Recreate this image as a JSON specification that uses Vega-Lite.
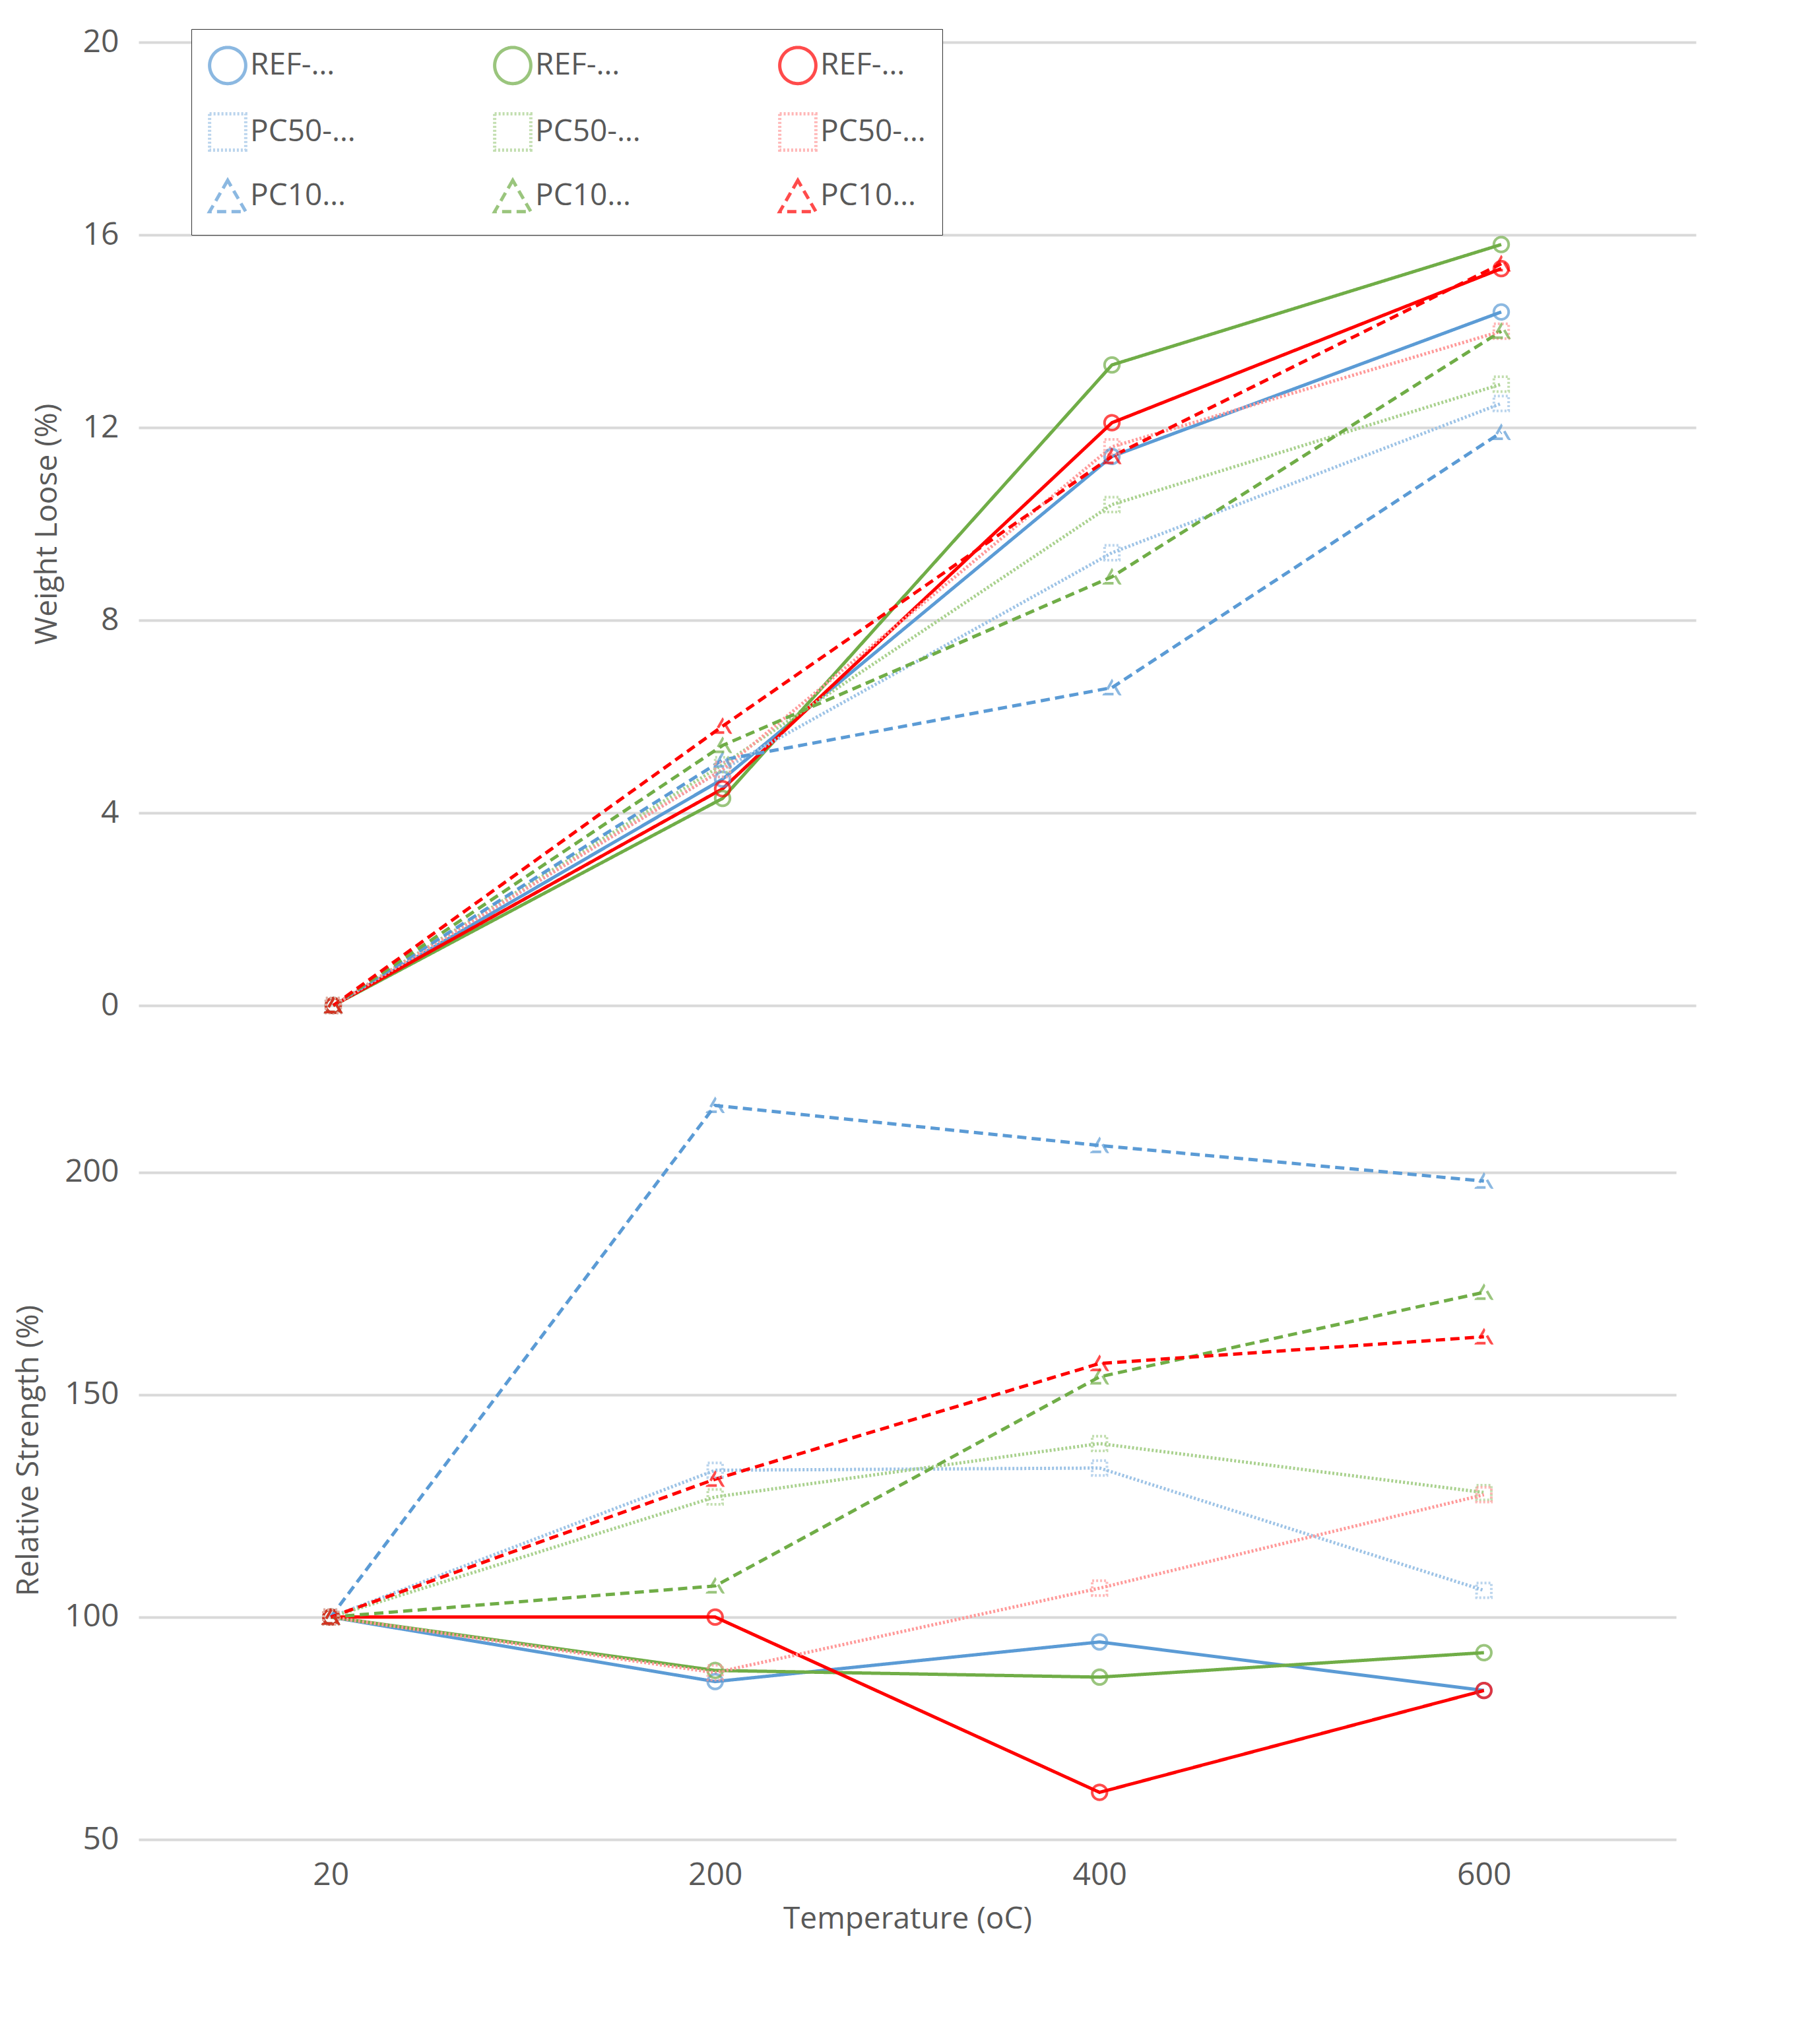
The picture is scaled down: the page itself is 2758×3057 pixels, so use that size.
{
  "$schema": "https://vega.github.io/schema/vega-lite/v6.json",
  "background": "white",
  "padding": {"left": 20, "top": 40, "right": 40, "bottom": 20},
  "config": {
    "font": "Open Sans",
    "view": {"stroke": null},
    "axis": {"labelFontSize": 48, "titleFontSize": 46, "labelColor": "#595959", "titleColor": "#595959", "titleFontWeight": "normal", "gridColor": "#D9D9D9", "gridWidth": 4, "domain": false, "ticks": false, "labelPadding": 30}
  },
  "datasets": {
    "loss": [
      {"series": "REF-D200", "temp": "20", "value": 0}, {"series": "REF-D200", "temp": "200", "value": 4.7}, {"series": "REF-D200", "temp": "400", "value": 11.4}, {"series": "REF-D200", "temp": "600", "value": 14.4},
      {"series": "REF-D250", "temp": "20", "value": 0}, {"series": "REF-D250", "temp": "200", "value": 4.3}, {"series": "REF-D250", "temp": "400", "value": 13.3}, {"series": "REF-D250", "temp": "600", "value": 15.8},
      {"series": "REF-D300", "temp": "20", "value": 0}, {"series": "REF-D300", "temp": "200", "value": 4.5}, {"series": "REF-D300", "temp": "400", "value": 12.1}, {"series": "REF-D300", "temp": "600", "value": 15.3},
      {"series": "PC50-D200", "temp": "20", "value": 0}, {"series": "PC50-D200", "temp": "200", "value": 4.9}, {"series": "PC50-D200", "temp": "400", "value": 9.4}, {"series": "PC50-D200", "temp": "600", "value": 12.5},
      {"series": "PC50-D250", "temp": "20", "value": 0}, {"series": "PC50-D250", "temp": "200", "value": 5.0}, {"series": "PC50-D250", "temp": "400", "value": 10.4}, {"series": "PC50-D250", "temp": "600", "value": 12.9},
      {"series": "PC50-D300", "temp": "20", "value": 0}, {"series": "PC50-D300", "temp": "200", "value": 4.9}, {"series": "PC50-D300", "temp": "400", "value": 11.6}, {"series": "PC50-D300", "temp": "600", "value": 14.0},
      {"series": "PC100-D200", "temp": "20", "value": 0}, {"series": "PC100-D200", "temp": "200", "value": 5.1}, {"series": "PC100-D200", "temp": "400", "value": 6.6}, {"series": "PC100-D200", "temp": "600", "value": 11.9},
      {"series": "PC100-D250", "temp": "20", "value": 0}, {"series": "PC100-D250", "temp": "200", "value": 5.4}, {"series": "PC100-D250", "temp": "400", "value": 8.9}, {"series": "PC100-D250", "temp": "600", "value": 14.0},
      {"series": "PC100-D300", "temp": "20", "value": 0}, {"series": "PC100-D300", "temp": "200", "value": 5.8}, {"series": "PC100-D300", "temp": "400", "value": 11.4}, {"series": "PC100-D300", "temp": "600", "value": 15.4}
    ],
    "strength": [
      {"series": "REF-D200", "temp": "20", "value": 100}, {"series": "REF-D200", "temp": "200", "value": 85.5}, {"series": "REF-D200", "temp": "400", "value": 94.4}, {"series": "REF-D200", "temp": "600", "value": 83.5},
      {"series": "REF-D250", "temp": "20", "value": 100}, {"series": "REF-D250", "temp": "200", "value": 88}, {"series": "REF-D250", "temp": "400", "value": 86.5}, {"series": "REF-D250", "temp": "600", "value": 92},
      {"series": "REF-D300", "temp": "20", "value": 100}, {"series": "REF-D300", "temp": "200", "value": 100}, {"series": "REF-D300", "temp": "400", "value": 60.6}, {"series": "REF-D300", "temp": "600", "value": 83.5},
      {"series": "PC50-D200", "temp": "20", "value": 100}, {"series": "PC50-D200", "temp": "200", "value": 133}, {"series": "PC50-D200", "temp": "400", "value": 133.5}, {"series": "PC50-D200", "temp": "600", "value": 106},
      {"series": "PC50-D250", "temp": "20", "value": 100}, {"series": "PC50-D250", "temp": "200", "value": 127}, {"series": "PC50-D250", "temp": "400", "value": 139}, {"series": "PC50-D250", "temp": "600", "value": 128},
      {"series": "PC50-D300", "temp": "20", "value": 100}, {"series": "PC50-D300", "temp": "200", "value": 87.5}, {"series": "PC50-D300", "temp": "400", "value": 106.5}, {"series": "PC50-D300", "temp": "600", "value": 127.5},
      {"series": "PC100-D200", "temp": "20", "value": 100}, {"series": "PC100-D200", "temp": "200", "value": 215}, {"series": "PC100-D200", "temp": "400", "value": 206}, {"series": "PC100-D200", "temp": "600", "value": 198},
      {"series": "PC100-D250", "temp": "20", "value": 100}, {"series": "PC100-D250", "temp": "200", "value": 107}, {"series": "PC100-D250", "temp": "400", "value": 154}, {"series": "PC100-D250", "temp": "600", "value": 173},
      {"series": "PC100-D300", "temp": "20", "value": 100}, {"series": "PC100-D300", "temp": "200", "value": 131}, {"series": "PC100-D300", "temp": "400", "value": 157}, {"series": "PC100-D300", "temp": "600", "value": 163}
    ]
  },
  "resolve": {"scale": {"color": "shared", "shape": "shared", "strokeDash": "shared"}},
  "spacing": 60,
  "vconcat": [
    {
      "width": 2360,
      "height": 1460,
      "data": {"name": "loss"},
      "encoding": {
        "x": {"field": "temp", "type": "ordinal", "sort": ["20", "200", "400", "600"], "scale": {"type": "point", "padding": 0.5}, "axis": {"labels": false, "title": null, "grid": false}},
        "y": {"field": "value", "type": "quantitative", "scale": {"domain": [0, 20]}, "axis": {"values": [0, 4, 8, 12, 16, 20], "title": "Weight Loose (%)", "titlePadding": 30}},
        "color": {"field": "series", "type": "nominal", "sort": ["REF-D200", "PC50-D200", "PC100-D200", "REF-D250", "PC50-D250", "PC100-D250", "REF-D300", "PC50-D300", "PC100-D300"],
          "scale": {"domain": ["REF-D200", "PC50-D200", "PC100-D200", "REF-D250", "PC50-D250", "PC100-D250", "REF-D300", "PC50-D300", "PC100-D300"],
            "range": ["#5B9BD5", "#9DC3E6", "#5B9BD5", "#70AD47", "#A9D18E", "#70AD47", "#FF0000", "#FF9999", "#FF0000"]},
          "legend": {"orient": "none", "legendX": 80, "legendY": -20, "columns": 3, "title": null, "labelFontSize": 46, "labelColor": "#595959", "symbolSize": 3000, "symbolStrokeWidth": 5, "columnPadding": 200, "rowPadding": 25, "padding": 25, "strokeColor": "#333333", "fillColor": "white", "symbolType": "stroke"}},
        "strokeDash": {"field": "series", "type": "nominal",
          "scale": {"domain": ["REF-D200", "PC50-D200", "PC100-D200", "REF-D250", "PC50-D250", "PC100-D250", "REF-D300", "PC50-D300", "PC100-D300"],
            "range": [[1, 0], [3, 3], [14, 8], [1, 0], [3, 3], [14, 8], [1, 0], [3, 3], [14, 8]]}, "legend": null}
      },
      "layer": [
        {"mark": {"type": "line", "strokeWidth": 5}},
        {"mark": {"type": "point", "filled": false, "size": 500, "strokeWidth": 4},
          "encoding": {"shape": {"field": "series", "type": "nominal", "legend": null,
            "scale": {"domain": ["REF-D200", "PC50-D200", "PC100-D200", "REF-D250", "PC50-D250", "PC100-D250", "REF-D300", "PC50-D300", "PC100-D300"],
              "range": ["circle", "square", "triangle-up", "circle", "square", "triangle-up", "circle", "square", "triangle-up"]}}}}
      ]
    },
    {
      "width": 2330,
      "height": 1180,
      "data": {"name": "strength"},
      "encoding": {
        "x": {"field": "temp", "type": "ordinal", "sort": ["20", "200", "400", "600"], "scale": {"type": "point", "padding": 0.5}, "axis": {"labelAngle": 0, "title": "Temperature (oC)", "grid": false, "titlePadding": 20}},
        "y": {"field": "value", "type": "quantitative", "scale": {"domain": [50, 225], "nice": false}, "axis": {"values": [50, 100, 150, 200], "title": "Relative Strength (%)", "titlePadding": 30}},
        "color": {"field": "series", "type": "nominal", "legend": null},
        "strokeDash": {"field": "series", "type": "nominal", "legend": null}
      },
      "layer": [
        {"mark": {"type": "line", "strokeWidth": 5}},
        {"mark": {"type": "point", "filled": false, "size": 500, "strokeWidth": 4},
          "encoding": {"shape": {"field": "series", "type": "nominal", "legend": null}}}
      ]
    }
  ]
}
